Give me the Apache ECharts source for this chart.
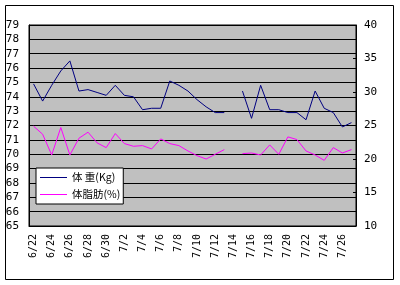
<!DOCTYPE html>
<html><head><meta charset="utf-8">
<script src="https://cdn.jsdelivr.net/npm/echarts@6/dist/echarts.min.js"></script>
<style>html,body{margin:0;padding:0;background:#fff}#c{width:400px;height:285px}</style>
</head><body><div id="c"></div>
<script>
const categories = ['6/22','6/23','6/24','6/25','6/26','6/27','6/28','6/29','6/30',
  '7/1','7/2','7/3','7/4','7/5','7/6','7/7','7/8','7/9','7/10','7/11','7/12','7/13','7/14',
  '7/15','7/16','7/17','7/18','7/19','7/20','7/21','7/22','7/23','7/24','7/25','7/26','7/27'];
const weight = [74.9, 73.7, 74.8, 75.8, 76.5, 74.4, 74.5, 74.3, 74.1, 74.8, 74.1, 74.0,
  73.1, 73.2, 73.2, 75.1, 74.8, 74.4, 73.8, 73.3, 72.9, 72.9, null, 74.4, 72.5, 74.8,
  73.1, 73.1, 72.9, 72.9, 72.4, 74.4, 73.2, 72.9, 71.9, 72.2];
const fat = [24.9, 23.7, 20.6, 24.7, 20.6, 23.1, 24.0, 22.4, 21.7, 23.8, 22.3, 21.9,
  22.0, 21.5, 23.0, 22.3, 22.0, 21.2, 20.5, 20.0, 20.7, 21.4, null, 20.8, 20.9, 20.6,
  22.1, 20.7, 23.3, 22.9, 21.2, 20.6, 19.8, 21.7, 20.9, 21.4];
const seriesNames = ['体 重(Kg)', '体脂肪(%)'];

const lineIcon = 'path://M0,0L0.01,0L0.01,0.01Z M0,5L27,5L27,6L0,6Z M0,11L0.01,11L0.01,10.99Z';
const chart = echarts.init(document.getElementById('c'), null, {renderer: 'canvas'});
const numFont = 'DejaVu Sans Mono';
chart.setOption({
  animation: false,
  backgroundColor: '#fff',
  graphic: [{
    type: 'rect', left: 5, top: 5, z: -10,
    shape: {width: 388, height: 274},
    style: {fill: '#fff', stroke: '#000', lineWidth: 1}
  }],
  grid: {left: 29, right: 44, top: 25, bottom: 59, show: true,
    backgroundColor: '#c0c0c0', borderColor: '#000', borderWidth: 1},
  legend: {
    left: 36, top: 168, orient: 'vertical',
    backgroundColor: '#fff', borderColor: '#000', borderWidth: 1,
    padding: [4, 3, 4, 4], itemGap: 6, itemWidth: 27, itemHeight: 11,
    icon: lineIcon,
    textStyle: {fontFamily: 'Noto Sans CJK JP', fontSize: 10.5, color: '#000'},
    data: seriesNames
  },
  xAxis: {
    type: 'category', data: categories, boundaryGap: true,
    axisLine: {lineStyle: {color: '#000', width: 1}},
    axisTick: {interval: 1, length: 3, lineStyle: {color: '#000'}},
    axisLabel: {interval: 1, rotate: 90, margin: 8, color: '#000',
      fontFamily: numFont, fontSize: 10}
  },
  yAxis: [{
    type: 'value', min: 65, max: 79, interval: 1,
    axisLine: {show: true, lineStyle: {color: '#000'}},
    axisTick: {show: false},
    splitLine: {lineStyle: {color: '#000', width: 1}},
    axisLabel: {margin: 10, color: '#000', fontFamily: numFont, fontSize: 11}
  }, {
    type: 'value', min: 10, max: 40, interval: 5, position: 'right',
    axisLine: {show: true, lineStyle: {color: '#000'}},
    axisTick: {show: true, inside: true, length: 3, lineStyle: {color: '#000'}},
    splitLine: {show: false},
    axisLabel: {margin: 8, color: '#000', fontFamily: numFont, fontSize: 11}
  }],
  series: [{
    name: seriesNames[0], type: 'line', data: weight, yAxisIndex: 0,
    symbol: 'none', connectNulls: false,
    lineStyle: {color: '#000080', width: 1}, itemStyle: {color: '#000080'}
  }, {
    name: seriesNames[1], type: 'line', data: fat, yAxisIndex: 1,
    symbol: 'none', connectNulls: false,
    lineStyle: {color: '#ff00ff', width: 1}, itemStyle: {color: '#ff00ff'}
  }]
});
</script></body></html>
